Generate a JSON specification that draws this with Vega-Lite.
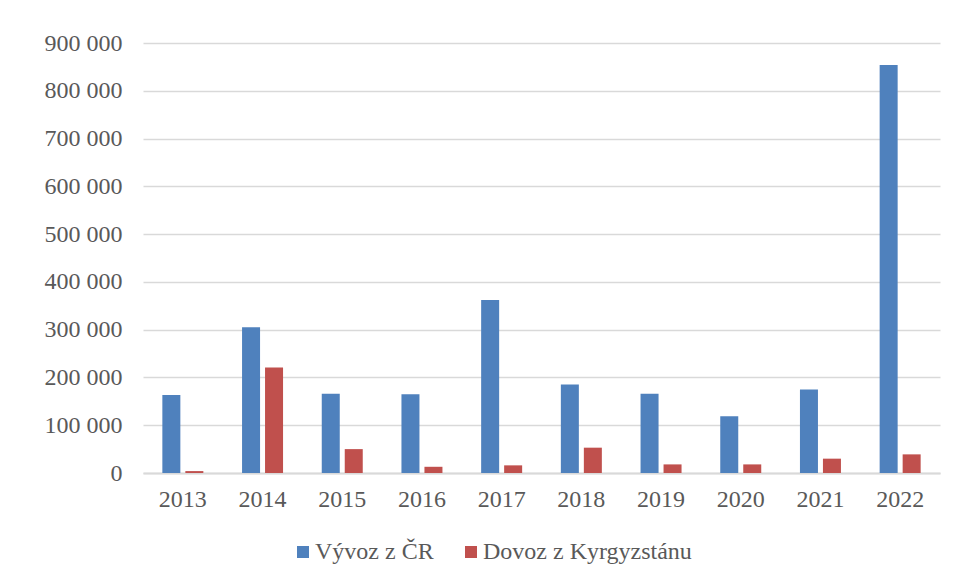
{
  "$schema": "https://vega.github.io/schema/vega-lite/v6.json",
  "autosize": "none",
  "width": 797,
  "height": 430,
  "padding": {"left": 143, "top": 43, "right": 17, "bottom": 109},
  "background": "white",
  "config": {
    "locale": {"number": {"decimal": ",", "thousands": " ", "grouping": [3], "currency": ["", ""]}},
    "view": {"stroke": null},
    "font": "Liberation Serif"
  },
  "data": {
    "values": [
      {"year": "2013", "series": "Vývoz z ČR", "value": 163000},
      {"year": "2013", "series": "Dovoz z Kyrgyzstánu", "value": 4000},
      {"year": "2014", "series": "Vývoz z ČR", "value": 305000},
      {"year": "2014", "series": "Dovoz z Kyrgyzstánu", "value": 221000},
      {"year": "2015", "series": "Vývoz z ČR", "value": 166000},
      {"year": "2015", "series": "Dovoz z Kyrgyzstánu", "value": 50000},
      {"year": "2016", "series": "Vývoz z ČR", "value": 165000},
      {"year": "2016", "series": "Dovoz z Kyrgyzstánu", "value": 13000},
      {"year": "2017", "series": "Vývoz z ČR", "value": 362000},
      {"year": "2017", "series": "Dovoz z Kyrgyzstánu", "value": 16000},
      {"year": "2018", "series": "Vývoz z ČR", "value": 185000},
      {"year": "2018", "series": "Dovoz z Kyrgyzstánu", "value": 53000},
      {"year": "2019", "series": "Vývoz z ČR", "value": 166000},
      {"year": "2019", "series": "Dovoz z Kyrgyzstánu", "value": 18000},
      {"year": "2020", "series": "Vývoz z ČR", "value": 119000},
      {"year": "2020", "series": "Dovoz z Kyrgyzstánu", "value": 18000},
      {"year": "2021", "series": "Vývoz z ČR", "value": 175000},
      {"year": "2021", "series": "Dovoz z Kyrgyzstánu", "value": 30000},
      {"year": "2022", "series": "Vývoz z ČR", "value": 854000},
      {"year": "2022", "series": "Dovoz z Kyrgyzstánu", "value": 39000}
    ]
  },
  "mark": {"type": "bar"},
  "encoding": {
    "x": {
      "field": "year",
      "type": "nominal",
      "scale": {"paddingInner": 0.4856, "paddingOuter": 0.2428},
      "axis": {
        "title": null,
        "labelAngle": 0,
        "labelFont": "Liberation Serif",
        "labelFontSize": 24,
        "labelColor": "#595959",
        "labelPadding": 14,
        "ticks": false,
        "tickSize": 0,
        "domainColor": "#D9D9D9",
        "domainWidth": 2,
        "grid": false
      }
    },
    "xOffset": {
      "field": "series",
      "type": "nominal",
      "sort": ["Vývoz z ČR", "Dovoz z Kyrgyzstánu"],
      "scale": {"paddingInner": 0.217, "paddingOuter": 0}
    },
    "y": {
      "field": "value",
      "type": "quantitative",
      "scale": {"domain": [0, 900000], "nice": false},
      "axis": {
        "title": null,
        "values": [0, 100000, 200000, 300000, 400000, 500000, 600000, 700000, 800000, 900000],
        "format": ",d",
        "labelFont": "Liberation Serif",
        "labelFontSize": 24,
        "labelColor": "#595959",
        "labelPadding": 21,
        "ticks": false,
        "tickSize": 0,
        "domain": false,
        "gridColor": "#D9D9D9",
        "gridWidth": 1.5
      }
    },
    "color": {
      "field": "series",
      "type": "nominal",
      "sort": ["Vývoz z ČR", "Dovoz z Kyrgyzstánu"],
      "scale": {"domain": ["Vývoz z ČR", "Dovoz z Kyrgyzstánu"], "range": ["#4F81BD", "#C0504D"]},
      "legend": {
        "title": null,
        "orient": "none",
        "direction": "horizontal",
        "legendX": 148,
        "legendY": 497,
        "padding": 0,
        "symbolType": "square",
        "symbolSize": 144,
        "symbolStrokeWidth": 0,
        "symbolOpacity": 1,
        "labelFont": "Liberation Serif",
        "labelFontSize": 24,
        "labelColor": "#595959",
        "labelOffset": 0,
        "columnPadding": 25,
        "labelLimit": 400
      }
    }
  }
}
